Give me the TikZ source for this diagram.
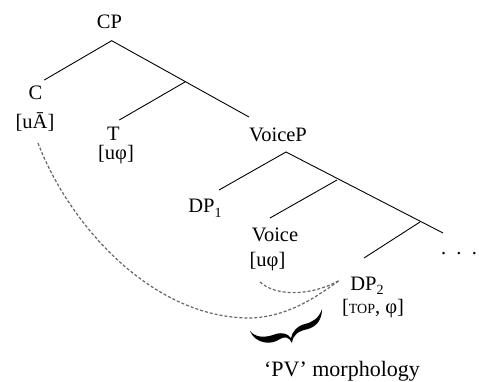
\documentclass[tikz,border=0pt]{standalone}
\usepackage{fontspec}
\setmainfont{Liberation Serif}
\begin{document}
\begin{tikzpicture}[x=1pt,y=-1pt,
  lbl/.style={inner sep=0pt,anchor=base,font=\fontsize{20.5}{22}\selectfont},
  branch/.style={line width=0.9pt,black},
  agree/.style={draw=black!60,line width=1.2pt,dash pattern=on 3pt off 2pt}]
\useasboundingbox (0,0) rectangle (479,382);
\newcommand{\sbs}[1]{\raisebox{-0.22em}{\fontsize{14}{14}\selectfont #1}}
% labels
\node[lbl] (cp) at (109.5,28.3) {CP};
\node[lbl] (c) at (35.5,100) {C};
\node[lbl] (cf) at (35,129) {[uĀ]};
\node[lbl] (t) at (113.5,141) {T};
\node[lbl] (tf) at (116,160) {[uφ]};
\node[lbl] (voicep) at (278,142) {VoiceP};
\node[lbl] (dp1) at (205,213) {DP\sbs{1}};
\node[lbl] (voice) at (275,241.5) {Voice};
\node[lbl] (vf) at (267.5,266) {[uφ]};
\node[lbl] (dots) at (459,254) {.\hspace{0.5em}.\hspace{0.5em}.};
\node[lbl] (dp2) at (367,290) {DP\sbs{2}};
\node[lbl] (df) at (373,313) {[{\fontsize{14}{14}\selectfont TOP}, φ]};
\node[lbl,font=\fontsize{22}{24}\selectfont] (pv) at (342,376) {‘PV’ morphology};
% tree points
\coordinate (cpb) at (111.7,40.7);
\coordinate (ct) at (44.3,80);
\coordinate (tb) at (185,82);
\coordinate (tt) at (119.3,120);
\coordinate (vpt) at (249,117);
\coordinate (vpb) at (286,152);
\coordinate (dp1t) at (219,190);
\coordinate (vb) at (337,180);
\coordinate (vt) at (270,218);
\coordinate (db) at (420,222);
\coordinate (dp2t) at (364,258);
\coordinate (dotst) at (443,233);
\draw[branch] (ct) -- (cpb) -- (vpt);
\draw[branch] (tb) -- (tt);
\draw[branch] (dp1t) -- (vpb) -- (dotst);
\draw[branch] (vb) -- (vt);
\draw[branch] (db) -- (dp2t);
% agreement curves
\coordinate (cfb) at (38,143);
\coordinate (vfb) at (260,282);
\coordinate (dpl) at (340,280);
\draw[agree] (cfb) .. controls (68,222) and (150,318) .. (250,318)
  .. controls (290,317) and (320,294) .. (dpl);
\draw[agree] (vfb) .. controls (275,296) and (310,297) .. (dpl);
% brace
\fill[black] (250,331) .. controls (255,343) and (270,346) .. (280,339)
  .. controls (285,336) and (289,337) .. (292,343)
  .. controls (293,334) and (299,331) .. (308,329)
  .. controls (318,326) and (322,318) .. (322,309)
  .. controls (319,318) and (313,322) .. (305,324)
  .. controls (297,326) and (292,332) .. (291,338)
  .. controls (288,334) and (283,332) .. (276,334)
  .. controls (265,338) and (256,338) .. (250,331) -- cycle;
\end{tikzpicture}
\end{document}
